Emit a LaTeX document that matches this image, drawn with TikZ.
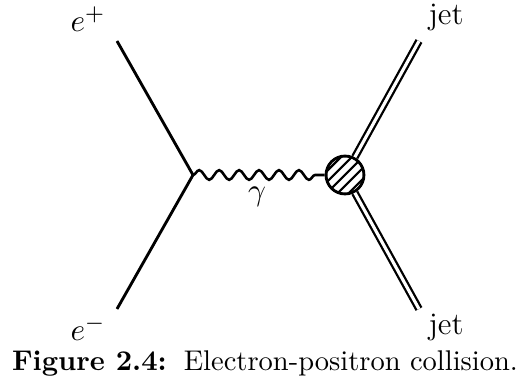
\documentclass[tikz,border=0pt]{standalone}
\usepackage{tikz}
\usetikzlibrary{decorations.pathmorphing,positioning,calc}
\tikzset{
  fermion/.style={line width=1pt},
  photon/.style={line width=0.9pt,decorate,decoration={snake,segment length=7pt,amplitude=1.7pt}},
  jetline/.style={double,line width=0.8pt,double distance=1.1pt},
  blob/.style={circle,draw,line width=1pt,minimum size=13.3pt,inner sep=0pt},
  hatch/.style={line width=0.75pt},
  plabel/.style={font=\fontsize{11}{13}\selectfont,inner sep=0pt}
}
\begin{document}
\begin{tikzpicture}[x=0.351pt,y=0.351pt]
\useasboundingbox (0,0) rectangle (523,381);
\coordinate (vtx) at (193,206);
\coordinate (ep) at (117,340);
\coordinate (em) at (117,72);
\coordinate (jt) at (419,340);
\coordinate (jb) at (419,72);
\node[blob] (blob) at (345,206) {};
\begin{scope}
  \clip (blob.center) circle (6.65pt);
  \foreach \k in {-3,...,3}{
    \draw[hatch] ($(blob.center)+(\k*11-30,-30)$) -- ++(60,60);
  }
\end{scope}
\draw[fermion] (ep) -- (vtx) -- (em);
\draw[photon] (vtx) -- (blob);
\draw[jetline] (blob) -- (jt);
\draw[jetline] (blob) -- (jb);
\node[plabel,anchor=base west] (lep) at (70,349) {$e^+$};
\node[plabel,anchor=base west] (lem) at (70,40) {$e^-$};
\node[plabel,anchor=base west] (ljt) at (428,356) {jet};
\node[plabel,anchor=base west] (ljb) at (428,46) {jet};
\node[plabel,anchor=base] (lg) at (257,180) {$\gamma$};
\node[anchor=base,inner sep=0pt] (cap) at (265,10) {\textbf{Figure 2.4:}\hspace{6pt}Electron-positron collision.};
\end{tikzpicture}
\end{document}
